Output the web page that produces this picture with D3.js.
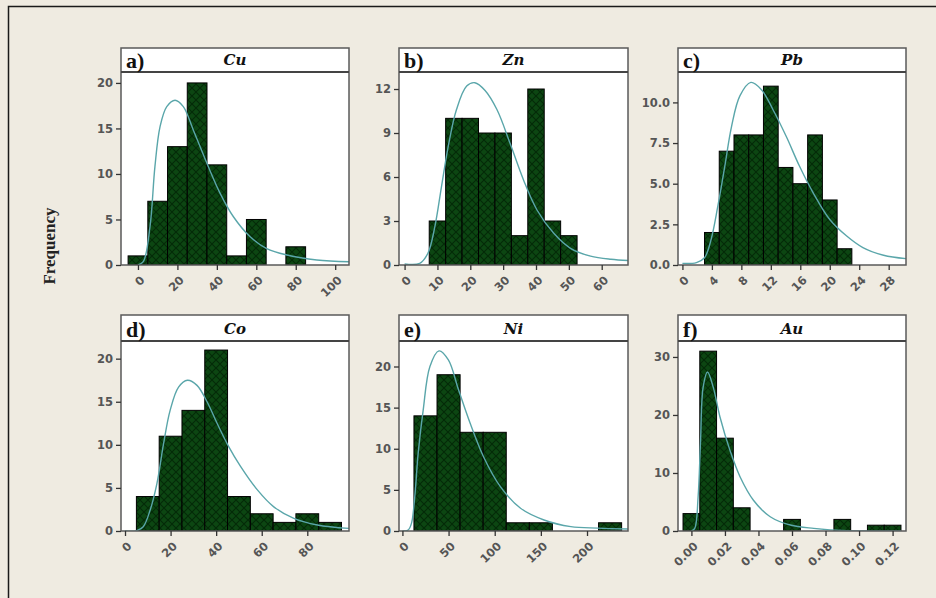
<!DOCTYPE html>
<html>
<head>
<meta charset="utf-8">
<script src="https://cdn.jsdelivr.net/npm/d3@7"></script>
<style>
  body { margin: 0; background: #efebe1; }
  .tick text { font-family: "DejaVu Sans", Verdana, sans-serif; font-weight: bold; font-size: 11.5px; fill: #555; }
</style>
</head>
<body>
<div id="chart"></div>
<script>
// panel titles
let letters = ["a)", "b)", "c)", "d)", "e)", "f)"];
let elements = ["Cu", "Zn", "Pb", "Co", "Ni", "Au"];

// histogram bins (centres) and counts
let cuBins = [0, 10, 20, 30, 40, 50, 60, 70, 80];
let cuCounts = [1, 7, 13, 20, 11, 1, 5, 0, 2];
let znBins = [10, 15, 20, 25, 30, 35, 40, 45, 50];
let znCounts = [3, 10, 10, 9, 9, 2, 12, 3, 2];
let pbBins = [4, 6, 8, 10, 12, 14, 16, 18, 20, 22];
let pbCounts = [2, 7, 8, 8, 11, 6, 5, 8, 4, 1];
let coBins = [10, 20, 30, 40, 50, 60, 70, 80, 90];
let coCounts = [4, 11, 14, 21, 4, 2, 1, 2, 1];
let niBins = [25, 50, 75, 100, 125, 150, 175, 200, 225];
let niCounts = [14, 19, 12, 12, 1, 1, 0, 0, 1];
let auBins = [0, 0.01, 0.02, 0.03, 0.04, 0.05, 0.06, 0.07, 0.08, 0.09, 0.10, 0.11, 0.12];
let auCounts = [3, 31, 16, 4, 0, 0, 2, 0, 0, 2, 0, 1, 1];
let binWidths = [10, 5, 2, 10, 25, 0.01];

// fitted curves
let cuCurveX = [0, 2.7, 6.1, 8.6, 11.2, 14.6, 18.8, 23, 28.1, 34.9, 41.6, 48.4, 56.9, 65.3, 75.5, 90.7, 107];
let cuCurveY = [0, 0.36, 4.2, 10.8, 15.2, 17.4, 18.1, 17.4, 14.8, 11.2, 7.9, 5.3, 3.1, 1.8, 1.1, 0.55, 0.36];
let znCurveX = [0, 4.6, 7.1, 9.2, 11.2, 13.3, 15.8, 18.9, 21.4, 24.5, 28.1, 32.1, 36.2, 40.3, 45.4, 50.5, 56.6, 62.8, 68.4];
let znCurveY = [0.07, 0.11, 0.8, 2.6, 5.3, 8.1, 10.6, 12.2, 12.43, 11.9, 10.6, 8.3, 5.8, 3.75, 2.16, 1.14, 0.61, 0.39, 0.3];
let pbCurveX = [0, 1.9, 3.0, 3.9, 4.8, 5.75, 6.66, 7.8, 9.29, 10.7, 12.3, 14.1, 15.9, 17.75, 20.0, 22.3, 24.5, 27.3, 30.35];
let pbCurveY = [0.1, 0.15, 0.45, 1.58, 3.6, 6.07, 8.5, 10.4, 11.23, 10.8, 9.55, 7.9, 6.07, 4.44, 2.8, 1.78, 1.07, 0.6, 0.39];
let coCurveX = [0, 5.1, 8.0, 11.0, 14.0, 16.9, 19.8, 23.5, 27.4, 31.6, 36.0, 40.4, 45.5, 50.7, 58.0, 65.3, 74.1, 84.4, 98.3];
let coCurveY = [0, 0.04, 0.5, 2.4, 5.5, 10.1, 14.0, 16.7, 17.5, 16.9, 15.0, 12.5, 9.8, 7.5, 4.8, 2.8, 1.47, 0.7, 0.3];
let niCurveX = [0, 6.2, 9.8, 13.4, 17.1, 22.5, 29.8, 39.6, 49.8, 60.7, 73.4, 88.0, 106.1, 128, 153.4, 182.5, 211.6, 244.4];
let niCurveY = [0, 0.12, 0.93, 4.2, 9.5, 14.7, 20.0, 21.9, 20.8, 17.2, 13.1, 9.0, 5.4, 2.76, 1.34, 0.53, 0.35, 0.25];
let auCurveX = [0, 0.002, 0.004, 0.0054, 0.007, 0.0096, 0.013, 0.017, 0.023, 0.029, 0.037, 0.047, 0.059, 0.073, 0.093, 0.125];
let auCurveY = [0, 0.46, 5.9, 15.1, 24.8, 27.4, 24.8, 19.7, 13.9, 9.35, 5.3, 2.46, 1.03, 0.46, 0.06, 0];

// axes
let xDomains = [[-8.6, 107], [-1.7, 68], [-0.6, 30.35], [-1.76, 98.3], [-3.7, 244.4], [-0.008, 0.128]];
let yDomains = [[0, 21.2], [0, 13.16], [0, 11.87], [0, 22.05], [0, 23.1], [0, 32.75]];
let xTicks = [[0, 20, 40, 60, 80, 100], [0, 10, 20, 30, 40, 50, 60], [0, 4, 8, 12, 16, 20, 24, 28],
              [0, 20, 40, 60, 80], [0, 50, 100, 150, 200], [0, 0.02, 0.04, 0.06, 0.08, 0.10, 0.12]];
let yTicks = [[0, 5, 10, 15, 20], [0, 3, 6, 9, 12], [0, 2.5, 5, 7.5, 10], [0, 5, 10, 15, 20], [0, 5, 10, 15, 20], [0, 10, 20, 30]];
let xFormats = ["d", "d", "d", "d", "d", ".2f"];
let yFormats = ["d", "d", ".1f", "d", "d", "d"];

let bins = [cuBins, znBins, pbBins, coBins, niBins, auBins];
let counts = [cuCounts, znCounts, pbCounts, coCounts, niCounts, auCounts];
let curvesX = [cuCurveX, znCurveX, pbCurveX, coCurveX, niCurveX, auCurveX];
let curvesY = [cuCurveY, znCurveY, pbCurveY, coCurveY, niCurveY, auCurveY];

let svgWidth = 936;
let svgHeight = 598;

// panel boxes in pixels
let colLeft = [121, 399, 678];
let colRight = [349, 628, 906];
let rowTop = [48, 315];
let headerH = [24, 26];
let rowBottom = [265, 531];

let svg = d3.select("#chart")
    .append("svg")
    .attr("width", svgWidth)
    .attr("height", svgHeight);

let defs = svg.append("defs");
let pat = defs.append("pattern")
    .attr("id", "hatch")
    .attr("patternUnits", "userSpaceOnUse")
    .attr("width", 8)
    .attr("height", 8);
pat.append("rect").attr("width", 8).attr("height", 8).attr("fill", "#0c4612");
pat.append("path").attr("d", "M0,0 L8,8 M8,0 L0,8").attr("stroke", "#032a07").attr("stroke-width", 1.2);

svg.append("rect")
    .attr("x", 8.5).attr("y", 6.5)
    .attr("width", 1000).attr("height", 1000)
    .attr("fill", "#efebe1")
    .attr("stroke", "#1a1a1a")
    .attr("stroke-width", 1.5);

svg.append("text")
    .attr("transform", "translate(55, 246) rotate(-90)")
    .attr("text-anchor", "middle")
    .style("font-family", "'Liberation Serif', 'Times New Roman', serif")
    .style("font-weight", "bold")
    .style("font-size", "17px")
    .attr("fill", "#222")
    .text("Frequency");

elements.forEach(function (el, i) {
    let r = Math.floor(i / 3);
    let c = i % 3;
    let left = colLeft[c], right = colRight[c];
    let top = rowTop[r], hdr = top + headerH[r], bottom = rowBottom[r];

    let x = d3.scaleLinear().domain(xDomains[i]).range([left, right]);
    let y = d3.scaleLinear().domain(yDomains[i]).range([bottom, hdr]);

    let g = svg.append("g");

    // header strip and plot area
    g.append("rect")
        .attr("x", left).attr("y", top)
        .attr("width", right - left).attr("height", bottom - top)
        .attr("fill", "#fff");

    defs.append("clipPath").attr("id", "clip" + i)
        .append("rect")
        .attr("x", left).attr("y", hdr)
        .attr("width", right - left).attr("height", bottom - hdr);

    let plot = g.append("g").attr("clip-path", `url(#clip${i})`);

    let w = binWidths[i];
    let barData = bins[i].map((b, k) => ({ c: b, n: counts[i][k] })).filter(d => d.n > 0);

    plot.selectAll("rect.bar")
        .data(barData)
        .enter()
        .append("rect")
        .attr("class", "bar")
        .attr("x", d => x(d.c - w / 2))
        .attr("y", d => y(d.n))
        .attr("width", d => x(d.c + w / 2) - x(d.c - w / 2))
        .attr("height", d => y(0) - y(d.n))
        .attr("fill", "url(#hatch)")
        .attr("stroke", "#000")
        .attr("stroke-width", 1);

    let curveData = curvesX[i].map((v, k) => [v, curvesY[i][k]]);
    let line = d3.line()
        .x(d => x(d[0]))
        .y(d => y(d[1]))
        .curve(d3.curveCatmullRom);

    plot.append("path")
        .datum(curveData)
        .attr("d", line)
        .attr("fill", "none")
        .attr("stroke", "#5aa6aa")
        .attr("stroke-width", 1.4);

    // frame
    g.append("rect")
        .attr("x", left).attr("y", top)
        .attr("width", right - left).attr("height", bottom - top)
        .attr("fill", "none")
        .attr("stroke", "#5a5a5a")
        .attr("stroke-width", 1.5);
    g.append("line")
        .attr("x1", left).attr("x2", right)
        .attr("y1", hdr).attr("y2", hdr)
        .attr("stroke", "#444")
        .attr("stroke-width", 2);

    g.append("text")
        .attr("x", left + 5).attr("y", hdr - 4)
        .style("font-family", "'Liberation Serif', 'Times New Roman', serif")
        .style("font-weight", "bold")
        .style("font-size", "22px")
        .attr("fill", "#111")
        .text(letters[i]);

    g.append("text")
        .attr("x", (left + right) / 2).attr("y", hdr - 7)
        .attr("text-anchor", "middle")
        .style("font-family", "'DejaVu Serif', serif")
        .style("font-weight", "bold")
        .style("font-style", "italic")
        .style("font-size", "15px")
        .attr("fill", "#111")
        .text(el);

    // axes
    let yAxis = d3.axisLeft(y)
        .tickValues(yTicks[i])
        .tickFormat(d3.format(yFormats[i]))
        .tickSize(5)
        .tickPadding(3);
    let ya = g.append("g")
        .attr("transform", `translate(${left}, 0)`)
        .call(yAxis);
    ya.select(".domain").remove();
    ya.selectAll(".tick line").attr("stroke", "#333").attr("stroke-width", 1.3);

    let xAxis = d3.axisBottom(x)
        .tickValues(xTicks[i])
        .tickFormat(d3.format(xFormats[i]))
        .tickSize(5)
        .tickPadding(3);
    let xa = g.append("g")
        .attr("transform", `translate(0, ${bottom})`)
        .call(xAxis);
    xa.select(".domain").remove();
    xa.selectAll(".tick line").attr("stroke", "#333").attr("stroke-width", 1.3);
    xa.selectAll(".tick text")
        .attr("x", 0)
        .attr("y", 0)
        .attr("dy", "0.35em")
        .attr("text-anchor", "end")
        .attr("transform", "translate(4, 13) rotate(-45)");
});
</script>
</body>
</html>
